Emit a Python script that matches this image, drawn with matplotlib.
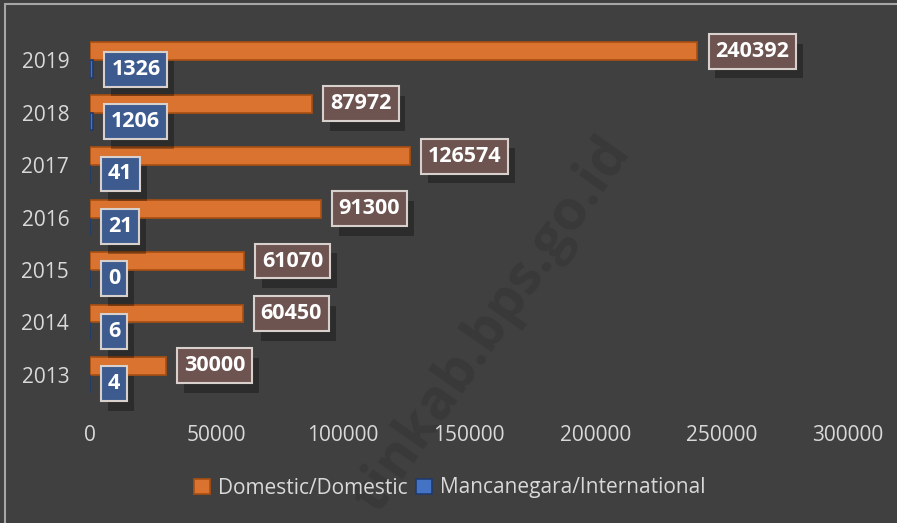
import matplotlib.pyplot as plt
import matplotlib.patheffects as pe
from matplotlib.patches import Rectangle
import numpy as np

years = ["2013", "2014", "2015", "2016", "2017", "2018", "2019"]
domestic = [30000, 60450, 61070, 91300, 126574, 87972, 240392]
international = [4, 6, 0, 21, 41, 1206, 1326]
x_ticks = [0, 50000, 100000, 150000, 200000, 250000, 300000]

BG = "#404040"
TXT = "#d9d9d9"
plt.rcParams['font.family'] = ['Open Sans', 'DejaVu Sans']

W, H = 897, 523
fig = plt.figure(figsize=(W / 100, H / 100), dpi=100, facecolor=BG)
fig.patches.append(Rectangle((5 / W, -0.1), 1.2, 1 - 4 / H + 0.1,
                             transform=fig.transFigure, facecolor="none",
                             edgecolor="#a6a6a6", linewidth=1.5))
ax = fig.add_axes([90 / W, 1 - 401 / H, (848 - 90) / W, (401 - 34) / H])
ax.set_facecolor(BG)

# faint watermark
ax.text(492 / W, 1 - 325 / H, "tinkab.bps.go.id", rotation=55, fontsize=40,
        fontweight="bold", color="#393939", ha="center", va="center",
        transform=fig.transFigure, clip_on=False, zorder=1)

y = np.arange(len(years))
h = 0.34
ax.barh(y + h / 2, domestic, height=h, color="#d9732f", edgecolor="#a94f12",
        linewidth=1.2, label="Domestic/Domestic", zorder=2)
ax.barh(y - h / 2, international, height=h, color="#4472c4",
        edgecolor="#1f3a6e", linewidth=1.2,
        label="Mancanegara/International", zorder=2)


def label(x, yy, val, fc):
    t = ax.annotate(str(val), (x, yy), xytext=(18, 0),
                    textcoords="offset pixels", ha="left", va="center",
                    fontsize=15.5, fontweight="bold", color="white", zorder=5,
                    bbox=dict(boxstyle="square,pad=0.32", facecolor=fc,
                              edgecolor="#d8d0cc", linewidth=1.5))
    t.get_bbox_patch().set_path_effects(
        [pe.SimplePatchShadow(offset=(5, -7), alpha=0.3, shadow_rgbFace="black"),
         pe.Normal()])


for i in range(len(years)):
    label(domestic[i], y[i] + h / 2, domestic[i], "#6e5450")
    label(international[i], y[i] - h / 2, international[i], "#3e5b8f")

ax.set_xlim(0, 300000)
ax.set_ylim(-0.5, len(years) - 0.5)
ax.set_yticks(y)
ax.set_yticklabels(years)
ax.set_xticks(x_ticks)
ax.set_xticklabels([str(v) for v in x_ticks])
ax.tick_params(length=0, colors=TXT, labelsize=15)
ax.tick_params(axis="y", pad=15)
ax.tick_params(axis="x", pad=17)
for s in ax.spines.values():
    s.set_visible(False)

fig.legend(loc="center", bbox_to_anchor=(450 / W, 1 - 488 / H), ncol=2,
           frameon=False, fontsize=15, labelcolor=TXT, handlelength=0.75,
           handleheight=0.75, handletextpad=0.4, columnspacing=0.4)

fig.savefig("out.png", dpi=100, facecolor=BG)
